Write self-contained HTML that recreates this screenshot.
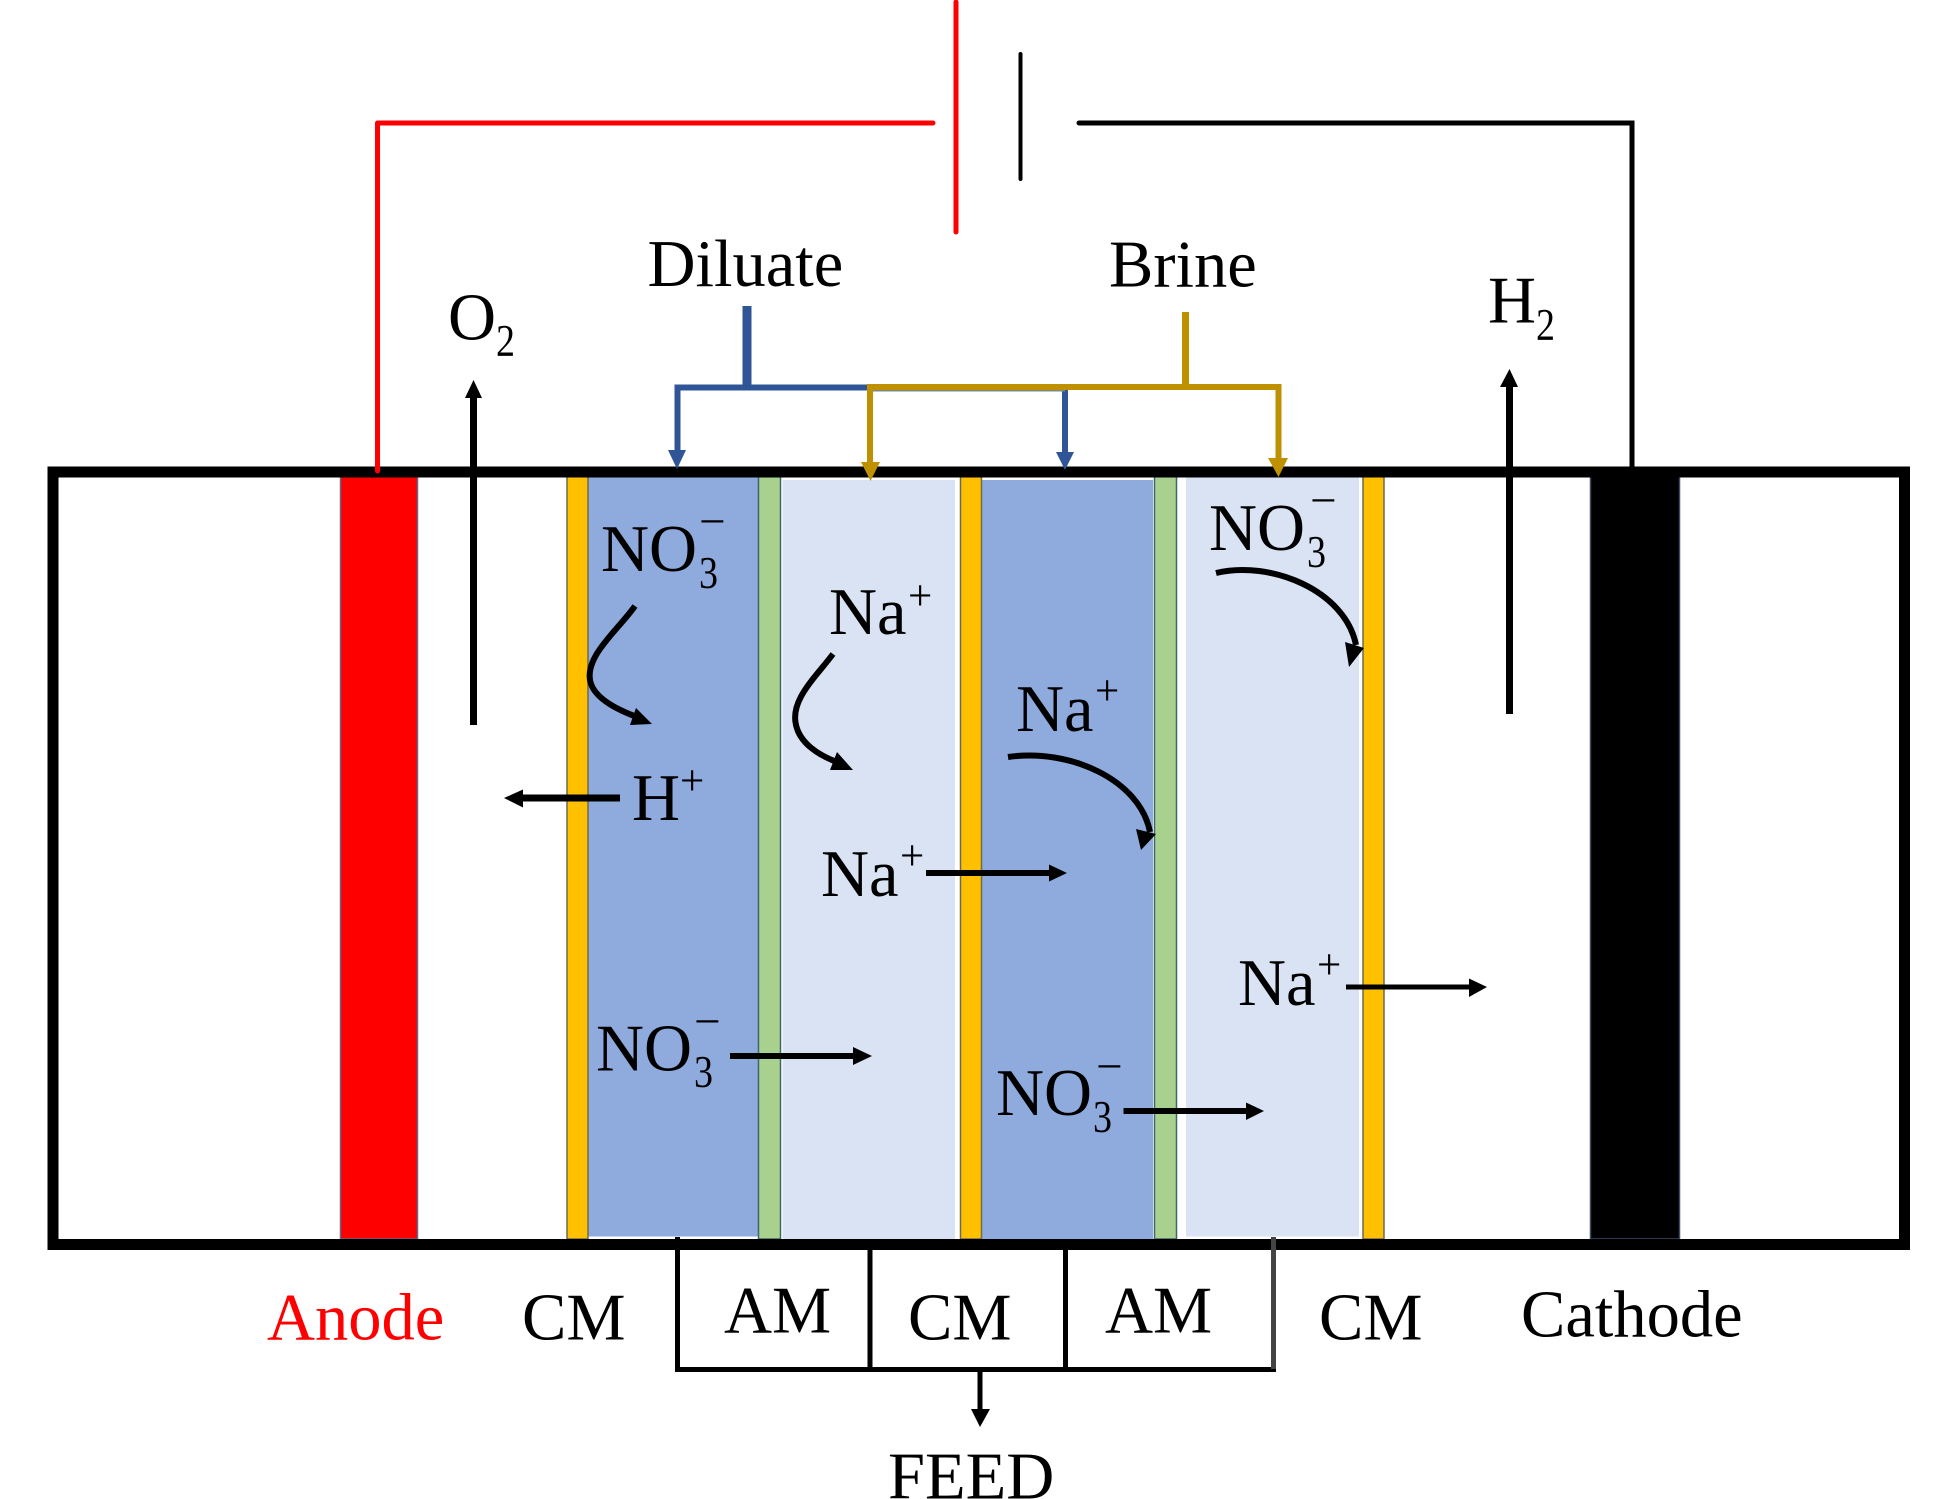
<!DOCTYPE html>
<html><head><meta charset="utf-8"><style>
html,body{margin:0;padding:0;background:#fff}
svg{display:block}
text{font-family:"Liberation Serif",serif;font-size:66.5px;fill:#000}
.s{font-size:45px}
.p{font-size:43px}
.m{font-size:47px}
</style></head><body>
<svg width="1943" height="1499" viewBox="0 0 1943 1499" xmlns="http://www.w3.org/2000/svg">
<rect width="1943" height="1499" fill="#fff"/>
<!-- bands -->
<rect x="340.5" y="476" width="77" height="763" fill="#f00" stroke="#5b6b8c" stroke-width="1.5"/>
<rect x="1590.5" y="476" width="89" height="763" fill="#000" stroke="#3b4a66" stroke-width="1.5"/>
<rect x="588" y="476" width="170" height="760.5" fill="#8faadc"/>
<rect x="782.5" y="480" width="172.5" height="759" fill="#dae3f3"/>
<rect x="981" y="480" width="172" height="759" fill="#8faadc"/>
<rect x="1186" y="476" width="173" height="760.5" fill="#dae3f3"/>
<g fill="#ffc000" stroke="#6b6b50" stroke-width="1.5">
<rect x="567" y="476" width="21" height="763"/>
<rect x="960.5" y="476" width="21" height="763"/>
<rect x="1363" y="476" width="21" height="763"/>
</g>
<g fill="#a9d18e" stroke="#3f6670" stroke-width="1.5">
<rect x="758.5" y="476" width="22" height="763"/>
<rect x="1154.5" y="476" width="22" height="763"/>
</g>
<!-- frame -->
<rect x="53" y="472" width="1851.500" height="772.500" fill="none" stroke="#000" stroke-width="11"/>
<!-- wires -->
<path d="M377.500 471V123H933" fill="none" stroke="#f00" stroke-width="5" stroke-linecap="round" stroke-linejoin="round"/>
<path d="M956 2V232" fill="none" stroke="#f00" stroke-width="5" stroke-linecap="round"/>
<path d="M1020.500 54V179" fill="none" stroke="#000" stroke-width="4" stroke-linecap="round"/>
<path d="M1079 123H1632V470" fill="none" stroke="#000" stroke-width="5" stroke-linecap="round" stroke-linejoin="miter"/>
<!-- dilute -->
<g fill="none" stroke="#2f5597">
<path d="M747 306V390" stroke-width="9"/>
<path d="M677.500 452V387.500H870" stroke-width="6"/>
<path d="M1065 389V454" stroke-width="6"/>
<path d="M870 390H1065" stroke-width="3" stroke="#7d8a80"/>
</g>
<polygon points="668,450 686,450 677,469" fill="#2f5597"/>
<polygon points="1056,452 1074,452 1065,470" fill="#2f5597"/>
<!-- brine -->
<g fill="none" stroke="#bf9000">
<path d="M1185.500 312V390" stroke-width="7"/>
<path d="M870 463V387H1278.500V460" stroke-width="6"/>
</g>
<polygon points="861,462 880,462 870.500,481" fill="#bf9000"/>
<polygon points="1268,458 1288,458 1278.500,477" fill="#bf9000"/>
<!-- straight arrows -->
<g stroke="#000" fill="none">
<path d="M473.500 725V395" stroke-width="7"/>
<path d="M1509.500 714V384" stroke-width="7"/>
<path d="M620 798H520" stroke-width="7"/>
<path d="M926 873H1052" stroke-width="6"/>
<path d="M730 1056H855" stroke-width="6"/>
<path d="M1346 987H1471" stroke-width="5"/>
<path d="M1123.500 1111H1248" stroke-width="6"/>
<path d="M980 1372V1412" stroke-width="5"/>
</g>
<g fill="#000">
<polygon points="473.500,380 465,398 482,398"/>
<polygon points="1509.500,369 1500,387 1518,387"/>
<polygon points="504,798 523,789.500 523,807.500"/>
<polygon points="1067,873 1049,864.500 1049,881.500"/>
<polygon points="872,1056 853,1047 853,1065"/>
<polygon points="1487,987 1469,978.500 1469,997"/>
<polygon points="1264,1111 1246,1102.500 1246,1120"/>
<polygon points="980,1427 971,1409 990,1409"/>
</g>
<!-- curved arrows -->
<g fill="none" stroke="#000" stroke-width="6">
<path d="M635 606C618 630 586 655 590 680C593 698 618 710 637 717"/>
<path d="M833 654C815 678 790 700 796 725C800 743 818 755 837 762"/>
<path d="M1216 573C1270 560 1345 590 1356 645"/>
<path d="M1008 757C1070 748 1140 780 1150 832"/>
</g>
<g fill="#000">
<polygon points="652,724 630,725 636,708"/>
<polygon points="853,770 830,770 837,752"/>
<polygon points="1345,642 1364,648 1349,667"/>
<polygon points="1136,829 1156,834 1141,850"/>
</g>
<!-- boxes -->
<path d="M677.500 1237V1369.500H1273.500V1237" fill="none" stroke="#000" stroke-width="5"/>
<path d="M1273.500 1237V1369" fill="none" stroke="#444" stroke-width="5"/>
<path d="M870 1245V1370M1065.500 1245V1370" fill="none" stroke="#000" stroke-width="5"/>
<!-- labels -->
<text x="647.500" y="286">Diluate</text>
<text x="1109" y="286.500">Brine</text>
<text x="448" y="339.500">O</text><text class="s" x="496" y="356" textLength="19" lengthAdjust="spacingAndGlyphs">2</text>
<text x="1488" y="322.500">H</text><text class="s" x="1536" y="340" textLength="19" lengthAdjust="spacingAndGlyphs">2</text>
<text x="601" y="571">NO</text><text class="s" x="699" y="588" textLength="19" lengthAdjust="spacingAndGlyphs">3</text><text class="m" x="699" y="537">−</text>
<text x="1209" y="550">NO</text><text class="s" x="1307" y="567" textLength="19" lengthAdjust="spacingAndGlyphs">3</text><text class="m" x="1310" y="516">−</text>
<text x="829" y="634">Na</text><text class="p" x="908" y="610">+</text>
<text x="1016" y="731">Na</text><text class="p" x="1095" y="705">+</text>
<text x="632" y="820">H</text><text class="p" x="680" y="795">+</text>
<text x="821" y="896">Na</text><text class="p" x="900" y="870">+</text>
<text x="596" y="1070.500">NO</text><text class="s" x="694" y="1087" textLength="19" lengthAdjust="spacingAndGlyphs">3</text><text class="m" x="694" y="1037">−</text>
<text x="1238" y="1005">Na</text><text class="p" x="1317" y="979">+</text>
<text x="996" y="1115">NO</text><text class="s" x="1093" y="1132" textLength="19" lengthAdjust="spacingAndGlyphs">3</text><text class="m" x="1096" y="1082">−</text>
<text x="267" y="1339.500" style="fill:#f00">Anode</text>
<text x="522" y="1339.500">CM</text>
<text x="724" y="1332.500">AM</text>
<text x="908" y="1339.500">CM</text>
<text x="1105" y="1332.500">AM</text>
<text x="1319" y="1339.500">CM</text>
<text x="1521" y="1336.500">Cathode</text>
<text x="888" y="1498.500">FEED</text>
</svg>
</body></html>
